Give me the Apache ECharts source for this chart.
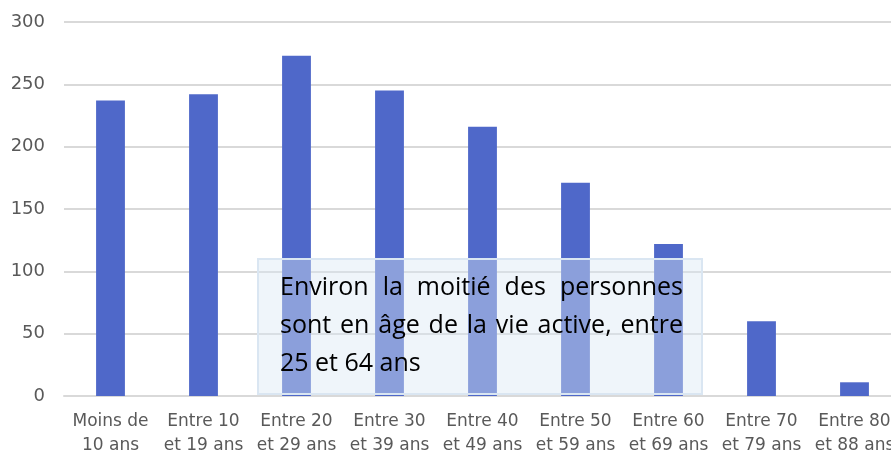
<!DOCTYPE html>
<html>
<head>
<meta charset="utf-8">
<script src="https://cdn.jsdelivr.net/npm/echarts@6/dist/echarts.min.js"></script>
<style>
  html, body { margin: 0; padding: 0; background: #fff; }
  #chart { width: 891px; height: 454px; }
</style>
</head>
<body>
<div id="chart"></div>
<script>
// tranches d'âge
const categories = [
  "Moins de\n10 ans", "Entre 10\net 19 ans", "Entre 20\net 29 ans",
  "Entre 30\net 39 ans", "Entre 40\net 49 ans", "Entre 50\net 59 ans",
  "Entre 60\net 69 ans", "Entre 70\net 79 ans", "Entre 80\net 88 ans"
];
const persons = [237, 242, 273, 245, 216, 171, 122, 60, 11];
const yTicks = [0, 50, 100, 150, 200, 250, 300];
const noteLines = [
  "Environ la moitié des personnes",
  "sont en âge de la vie active, entre",
  "25 et 64 ans"
];

const chart = echarts.init(document.getElementById("chart"));
const axisFont = "DejaVu Sans";
const noteFont = "25px 'Open Sans'";

// texte justifié : on place chaque mot, la dernière ligne reste à gauche
const ctx = document.createElement("canvas").getContext("2d");
ctx.font = noteFont;
const noteLeft = 280, noteRight = 683, noteBase = 297, noteStep = 38;
let noteItems = [];
noteLines.forEach((line, i) => {
  const words = line.split(" ");
  const y = noteBase + i * noteStep - 9.5;
  const last = i === noteLines.length - 1;
  let gap = ctx.measureText(" ").width;
  if (!last) {
    const total = words.reduce((s, w) => s + ctx.measureText(w).width, 0);
    gap = (noteRight - noteLeft - total) / (words.length - 1);
  }
  let x = noteLeft;
  words.forEach((w) => {
    noteItems.push({
      type: "text",
      z: 101,
      x: x,
      y: y,
      style: {
        text: w,
        fill: "#000",
        font: noteFont,
        verticalAlign: "middle"
      }
    });
    x += ctx.measureText(w).width + gap;
  });
});

let option = {
  animation: false,
  grid: {
    left: 64,
    top: 22,
    width: 837,
    height: 374,
    outerBoundsMode: "none",
    containLabel: false
  },
  xAxis: {
    type: "category",
    data: categories,
    axisTick: { show: false },
    axisLine: { lineStyle: { color: "#d9d9d9", width: 2 } },
    axisLabel: {
      color: "#595959",
      fontFamily: axisFont,
      fontSize: 17,
      lineHeight: 24,
      margin: 14,
      interval: 0
    }
  },
  yAxis: {
    type: "value",
    min: yTicks[0],
    max: yTicks[yTicks.length - 1],
    interval: 50,
    axisLine: { show: false },
    axisTick: { show: false },
    splitLine: { lineStyle: { color: "#d9d9d9", width: 2 } },
    axisLabel: {
      color: "#595959",
      fontFamily: axisFont,
      fontSize: 18,
      margin: 19
    }
  },
  series: [
    {
      type: "bar",
      data: persons,
      barWidth: "31%",
      itemStyle: { color: "#4f68c9" }
    }
  ],
  graphic: [
    {
      type: "rect",
      z: 100,
      shape: { x: 258, y: 259, width: 444, height: 135 },
      style: {
        fill: "rgba(217,231,243,0.43)",
        stroke: "#dae6f2",
        lineWidth: 2
      }
    },
    ...noteItems
  ]
};
chart.setOption(option);
</script>
</body>
</html>
